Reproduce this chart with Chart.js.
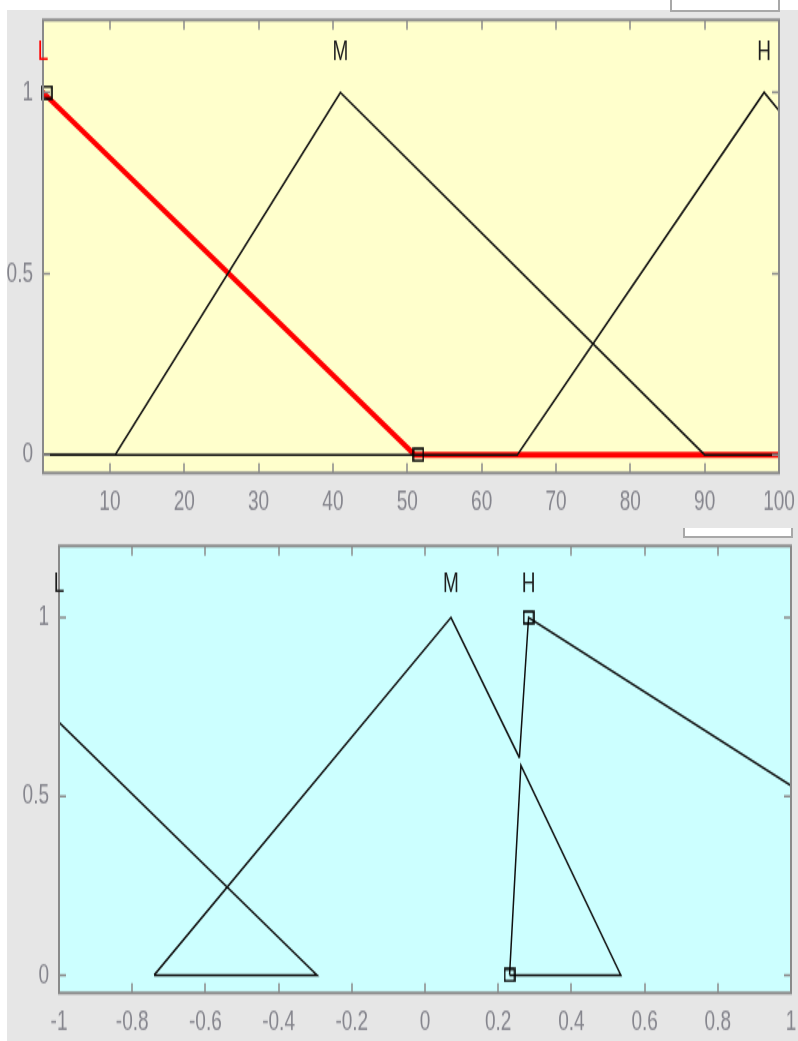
<!DOCTYPE html>
<html>
<head>
<meta charset="utf-8">
<title>Membership functions</title>
<script src="https://cdn.jsdelivr.net/npm/chart.js@4.4.0/dist/chart.umd.min.js"></script>
<style>
  html, body { margin: 0; padding: 0; background: #fff; }
  #page { position: relative; width: 798px; height: 1041px; overflow: hidden; }
  .fig { position: absolute; background: #e6e6e6; }
  #figTop { left: 7px; top: 10px; width: 791px; height: 510px; }
  #figBottom { left: 7px; top: 520px; width: 791px; height: 521px; }
  .tab { position: absolute; background: #fff; border: 2px solid #a8a8a8; border-top: none; }
  #tabTop { left: 670px; top: 0; width: 106px; height: 10px; }
  #tabBottom { left: 683px; top: 528px; width: 106px; height: 8px; }
  /* the axes are drawn at 2/3 height and stretched back, like the tall MATLAB glyphs */
  .wrap { position: absolute; left: 0; width: 798px; height: 347px; transform: scale(1, 1.5); transform-origin: 0 0; }
  #wrapTop { top: 0; }
  #wrapBottom { top: 520px; }
</style>
</head>
<body>
<div id="page">
  <div class="fig" id="figTop"></div>
  <div class="fig" id="figBottom"></div>
  <div class="tab" id="tabTop"></div>
  <div class="tab" id="tabBottom"></div>
  <div class="wrap" id="wrapTop"><canvas id="topChart" width="798" height="347"></canvas></div>
  <div class="wrap" id="wrapBottom"><canvas id="bottomChart" width="798" height="347"></canvas></div>
</div>
<script>
// input variable, range 1..100
const inLowX = [1, 51, 100];
const inLowY = [1, 0, 0];
const inMidX = [1, 10.7, 41, 90, 100];
const inMidY = [0, 0, 1, 0, 0];
const inHighX = [1, 64.8, 98, 100];
const inHighY = [0, 0, 1, 0.95];
const inMarkX = [1.5, 51.5];
const inMarkY = [1, 0];
const inTicksX = [10, 20, 30, 40, 50, 60, 70, 80, 90, 100];
const inNames = ['L', 'M', 'H'];
const inNameX = [1, 41, 98];

// output variable, range -1..1
const outLowX = [-1, -0.295, -0.74];
const outLowY = [0.707, 0, 0];
const outMidX = [-0.74, 0.071, 0.258];
const outMidY = [0, 1, 0.608];
const outHighX = [0.258, 0.283, 1];
const outHighY = [0.608, 1, 0.53];
const outTriX = [0.231, 0.262, 0.535, 0.231];
const outTriY = [0, 0.586, 0, 0];
const outMarkX = [0.283, 0.231];
const outMarkY = [1, 0];
const outTicksX = [-1, -0.8, -0.6, -0.4, -0.2, 0, 0.2, 0.4, 0.6, 0.8, 1];
const outNames = ['L', 'M', 'H'];
const outNameX = [-1, 0.071, 0.283];

const ticksY = [0, 0.5, 1];

const FONT = "'Liberation Sans', Arial, sans-serif";
const FONT_SIZE = 19;
const TICK_COLOR = '#85858d';

function pts(xs, ys) {
    return xs.map((x, i) => ({ x: x, y: ys[i] }));
}

// open square for the vertices of the selected function
const square = document.createElement('canvas');
square.width = 12;
square.height = 10;
const sq = square.getContext('2d');
sq.strokeStyle = '#000';
sq.lineWidth = 1.6;
sq.strokeRect(1, 1, 10, 8);

const mfLine = (xs, ys, color, width, order) => ({
    data: pts(xs, ys),
    borderColor: color,
    borderWidth: width,
    pointRadius: 0,
    tension: 0,
    order: order,
});

const markers = (xs, ys) => ({
    data: pts(xs, ys),
    showLine: false,
    pointStyle: square,
    pointRadius: 6,
    order: -1,
    clip: false,
});

// axes background, box, inward ticks and function names
const frame = {
    id: 'frame',
    beforeDatasetsDraw(chart, args, opts) {
        const { ctx, chartArea: a } = chart;
        ctx.save();
        ctx.fillStyle = opts.fill;
        ctx.fillRect(a.left, a.top, a.right - a.left, a.bottom - a.top);
        ctx.restore();
    },
    afterDatasetsDraw(chart, args, opts) {
        const { ctx, chartArea: a, scales } = chart;
        ctx.save();
        ctx.strokeStyle = '#8a8a8a';
        ctx.lineWidth = 1.5;
        ctx.beginPath();
        scales.x.ticks.forEach((t) => {
            const px = Math.round(scales.x.getPixelForValue(t.value));
            ctx.moveTo(px, a.top);
            ctx.lineTo(px, a.top + 6.5);
            ctx.moveTo(px, a.bottom);
            ctx.lineTo(px, a.bottom - 6.5);
        });
        scales.y.ticks.forEach((t) => {
            const py = scales.y.getPixelForValue(t.value);
            ctx.moveTo(a.left, py);
            ctx.lineTo(a.left + 7, py);
            ctx.moveTo(a.right, py);
            ctx.lineTo(a.right - 7, py);
        });
        ctx.stroke();
        ctx.lineWidth = 2;
        ctx.strokeRect(a.left, a.top, a.right - a.left, a.bottom - a.top);

        ctx.font = FONT_SIZE + 'px ' + FONT;
        ctx.textAlign = 'center';
        ctx.textBaseline = 'middle';
        opts.names.forEach((n, i) => {
            ctx.fillStyle = i === opts.selected ? '#ff0000' : '#1e1e1e';
            ctx.fillText(n, scales.x.getPixelForValue(opts.nameX[i]), scales.y.getPixelForValue(opts.nameY));
        });
        ctx.restore();
    },
};

// labels may run past the box, so the scales ask for no extra room
function noPadding(s) {
    s.paddingTop = 0;
    s.paddingBottom = 0;
    s.paddingLeft = 0;
    s.paddingRight = 0;
}

function panel(canvas, datasets, xMin, xMax, xTicks, box, extra) {
    return new Chart(canvas, {
        type: 'line',
        data: { datasets: datasets },
        options: {
            responsive: false,
            animation: false,
            layout: { padding: { top: box.top, right: box.right, left: 0, bottom: 0 } },
            plugins: {
                legend: { display: false },
                tooltip: { enabled: false },
                frame: extra,
            },
            scales: {
                x: {
                    type: 'linear',
                    min: xMin,
                    max: xMax,
                    grid: { display: false, drawTicks: false },
                    border: { display: false },
                    afterBuildTicks: (s) => { s.ticks = xTicks.map((v) => ({ value: v })); },
                    afterFit: (s) => { s.height = box.xh; noPadding(s); },
                    ticks: {
                        autoSkip: false,
                        maxRotation: 0,
                        padding: box.xPad,
                        color: TICK_COLOR,
                        font: { family: FONT, size: FONT_SIZE },
                        callback: (v) => String(v),
                    },
                },
                y: {
                    type: 'linear',
                    min: -0.05,
                    max: 1.2,
                    grid: { display: false, drawTicks: false },
                    border: { display: false },
                    afterBuildTicks: (s) => { s.ticks = ticksY.map((v) => ({ value: v })); },
                    afterFit: (s) => { s.width = box.yw; noPadding(s); },
                    ticks: {
                        padding: box.yPad,
                        color: TICK_COLOR,
                        font: { family: FONT, size: FONT_SIZE },
                        callback: (v) => String(v),
                    },
                },
            },
        },
        plugins: [frame],
    });
}

panel(
    document.getElementById('topChart'),
    [
        mfLine(inMidX, inMidY, '#111', 1.5, 0),
        mfLine(inHighX, inHighY, '#111', 1.5, 0),
        mfLine(inLowX, inLowY, '#ff0000', 4, 1),
        markers(inMarkX, inMarkY),
    ],
    1, 100, inTicksX,
    { top: 13.3, right: 19, xh: 31.7, yw: 43, xPad: 8, yPad: 10 },
    { fill: '#ffffcc', names: inNames, nameX: inNameX, nameY: 1.11, selected: 0 }
);

panel(
    document.getElementById('bottomChart'),
    [
        mfLine(outLowX, outLowY, '#111', 1.5, 0),
        mfLine(outMidX, outMidY, '#111', 1.5, 0),
        mfLine(outHighX, outHighY, '#111', 1.5, 0),
        mfLine(outTriX, outTriY, '#111', 1.5, 0),
        markers(outMarkX, outMarkY),
    ],
    -1, 1, outTicksX,
    { top: 17.3, right: 5, xh: 31.7, yw: 59, xPad: 8, yPad: 10 },
    { fill: '#ccffff', names: outNames, nameX: outNameX, nameY: 1.095, selected: -1 }
);
</script>
</body>
</html>
